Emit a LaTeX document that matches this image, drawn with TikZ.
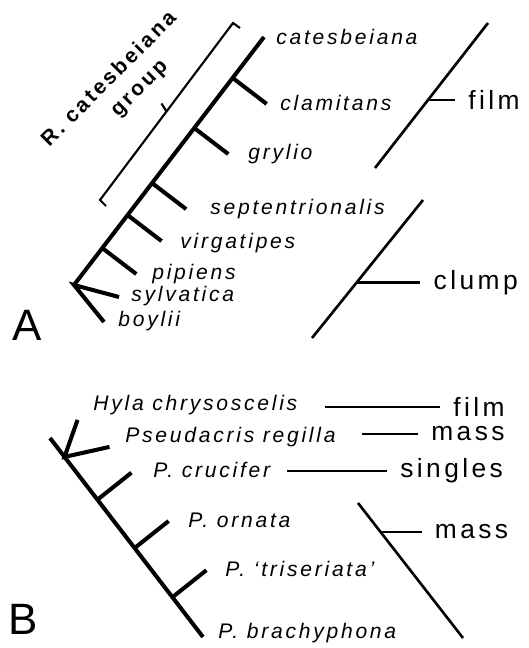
\documentclass[tikz,border=0pt]{standalone}
\usepackage{fontspec}
\setmainfont{Liberation Sans}
\newfontfamily\spacedfont[LetterSpace=13]{Liberation Sans}
\usetikzlibrary{positioning,calc}
\tikzset{
  spine/.style={line width=2.3pt},
  habitline/.style={line width=1.5pt},
  bracketline/.style={line width=1.2pt},
  taxon/.style={
    font=\spacedfont\itshape\fontsize{12}{14}\selectfont,
    inner sep=0pt, anchor=west
  },
  habit/.style={
    font=\spacedfont\fontsize{15}{17}\selectfont,
    inner ysep=0pt, inner xsep=0.26cm
  },
  panel/.style={font=\fontsize{25}{28}\selectfont, inner sep=0pt},
  grouptxt/.style={
    font=\spacedfont\bfseries\fontsize{12}{14}\selectfont,
    rotate=45, inner sep=0pt
  }
}

\begin{document}
\begin{tikzpicture}[x=0.02cm, y=-0.02cm]
  \useasboundingbox (0,0) rectangle (528,648);
  %
  % ==================================================================
  % Panel A:  Rana tree (spine runs up to the right)
  % ==================================================================
  \coordinate (rootA) at (74,285);
  \coordinate (topA) at (264,37);
  \draw[spine] (rootA) -- (topA);
  % side branches: position along spine / name
  \foreach \t/\n in {0.835/clam, 0.633/gryl, 0.411/sept, 0.282/virg, 0.149/pipi}{
    \coordinate (\n) at ($(rootA)!\t!(topA)$);
    \coordinate (\n T) at ($(\n)+(34,26)$);
    \draw[spine] (\n) -- (\n T);
  }
  \coordinate (sylvT) at ($(rootA)+(45,12)$);
  \coordinate (boylT) at ($(rootA)+(30,37)$);
  \draw[spine] (sylvT) -- (rootA) -- (boylT);
  %
  \node[taxon] (cates) at (276,37) {catesbeiana};
  \node[taxon] (clamit) at (280,103) {clamitans};
  \node[taxon] (grylio) at (248,154) {grylio};
  \node[taxon] (septen) at (210,209) {septentrionalis};
  \node[taxon] (virgat) at (180,243) {virgatipes};
  \node[taxon] (pipien) at (152,274) {pipiens};
  \node[taxon] (sylvat) at (131,296) {sylvatica};
  \node[taxon] (boylii) at (118,321) {boylii};
  %
  % group bracket
  \coordinate (brLo) at (100,200);
  \coordinate (brHi) at (233,23);
  \coordinate (brMid) at ($(brLo)!0.5!(brHi)$);
  \draw[bracketline] ($(brLo)+(6,6)$) -- (brLo) -- (brHi) -- ($(brHi)+(7,5)$);
  \draw[bracketline] (brMid) -- ++(-5,-8);
  \node[grouptxt] (grpname) at (108,78) {R. catesbeiana};
  \node[grouptxt] (grpword) at (141,90) {group};
  %
  % egg deposition, panel A
  \coordinate (filmA1) at (375,168);
  \coordinate (filmA2) at (488,23);
  \draw[habitline] (filmA1) -- (filmA2);
  \coordinate (filmAk) at ($(filmA1)!0.469!(filmA2)$);
  \node[habit, right=0.54cm of filmAk] (filmA) {film};
  \draw[habitline] (filmAk) -- (filmA.west);
  %
  \coordinate (clumpA1) at (312,338);
  \coordinate (clumpA2) at (423,200);
  \draw[habitline] (clumpA1) -- (clumpA2);
  \coordinate (clumpAk) at ($(clumpA1)!0.40!(clumpA2)$);
  \node[habit, right=1.28cm of clumpAk] (clumpA) {clump};
  \draw[habitline] (clumpAk) -- (clumpA.west);
  %
  \node[panel] (panA) at (27,325) {A};
  %
  % ==================================================================
  % Panel B:  hylid tree (spine runs down to the right)
  % ==================================================================
  \coordinate (rootB) at (50,438);
  \coordinate (endB) at (203,637);
  \draw[spine] (rootB) -- (endB);
  \coordinate (hylaJ) at ($(rootB)!0.095!(endB)$);
  \coordinate (hylaT) at ($(hylaJ)+(13,-37)$);
  \coordinate (pseuT) at ($(hylaJ)+(45,-10)$);
  \draw[spine] (hylaT) -- (hylaJ) -- (pseuT);
  \foreach \t/\n in {0.31/cruc, 0.553/orna, 0.80/tris}{
    \coordinate (\n) at ($(rootB)!\t!(endB)$);
    \coordinate (\n T) at ($(\n)+(34,-27)$);
    \draw[spine] (\n) -- (\n T);
  }
  %
  \node[taxon] (hyla) at (93,405) {Hyla chrysoscelis};
  \node[taxon] (pseud) at (125,437) {Pseudacris regilla};
  \node[taxon] (cruci) at (153,470) {P. crucifer};
  \node[taxon] (ornat) at (188,520) {P. ornata};
  \node[taxon] (trise) at (225,569) {P. ‘triseriata’};
  \node[taxon] (brach) at (218,633) {P. brachyphona};
  %
  % egg deposition, panel B
  \coordinate (filmB0) at (325,407);
  \node[habit, right=2.3cm of filmB0] (filmB) {film};
  \draw[habitline] (filmB0) -- (filmB.west);
  \coordinate (massB0) at (362,434);
  \node[habit, right=1.12cm of massB0] (massB) {mass};
  \draw[habitline] (massB0) -- (massB.west);
  \coordinate (singB0) at (287,471);
  \node[habit, right=2.0cm of singB0] (singB) {singles};
  \draw[habitline] (singB0) -- (singB.west);
  %
  \coordinate (massC1) at (358,503);
  \coordinate (massC2) at (463,638);
  \draw[habitline] (massC1) -- (massC2);
  \coordinate (massCk) at ($(massC1)!0.215!(massC2)$);
  \node[habit, right=0.82cm of massCk] (massC) {mass};
  \draw[habitline] (massCk) -- (massC.west);
  %
  \node[panel] (panB) at (23,619) {B};
\end{tikzpicture}
\end{document}
